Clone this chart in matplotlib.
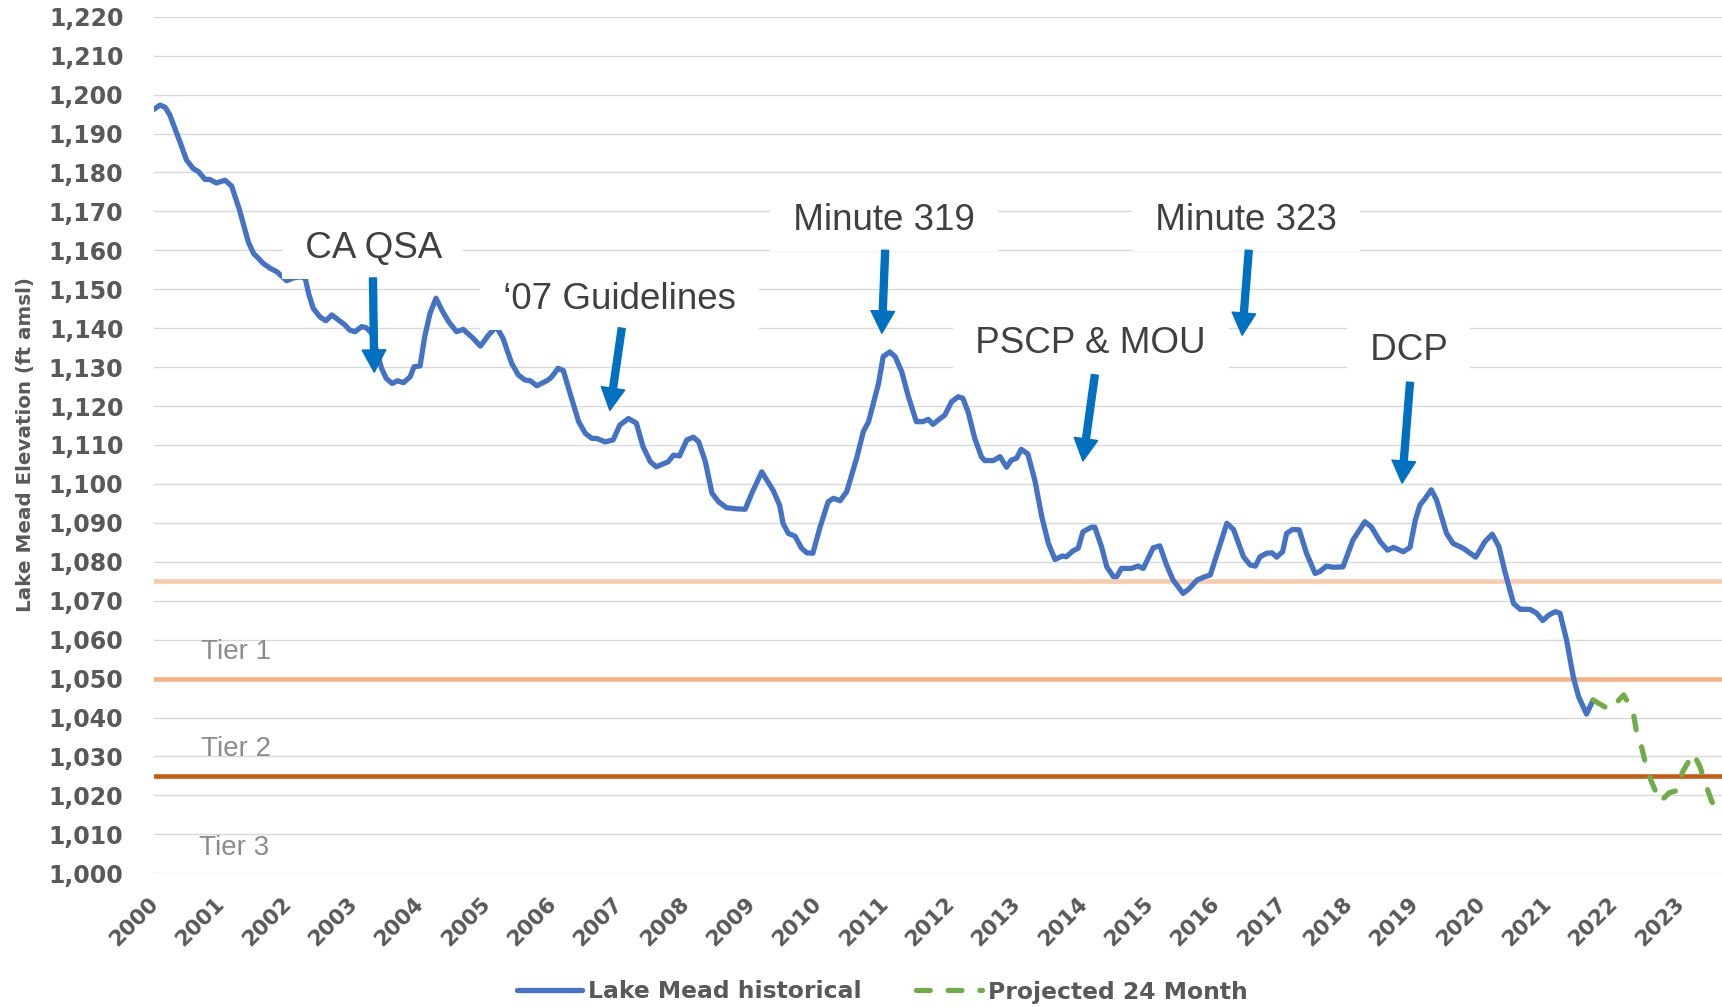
import matplotlib
matplotlib.use("Agg")
import matplotlib.pyplot as plt
from matplotlib.transforms import ScaledTranslation

# ---------------- data ----------------
hist_years = [
    2000.00, 2000.09, 2000.17, 2000.24, 2000.39, 2000.49, 2000.59, 2000.67, 2000.77, 2000.84,
    2000.94, 2001.07, 2001.17, 2001.29, 2001.42, 2001.50, 2001.65, 2001.75, 2001.85, 2002.00,
    2002.10, 2002.20, 2002.28, 2002.33, 2002.40, 2002.50, 2002.59, 2002.68, 2002.78, 2002.88,
    2002.95, 2003.03, 2003.13, 2003.20, 2003.28, 2003.35, 2003.43, 2003.50, 2003.59, 2003.67,
    2003.76, 2003.86, 2003.92, 2004.01, 2004.08, 2004.16, 2004.25, 2004.34, 2004.44, 2004.56,
    2004.66, 2004.81, 2004.92, 2005.04, 2005.16, 2005.26, 2005.39, 2005.49, 2005.59, 2005.67,
    2005.77, 2005.92, 2005.99, 2006.09, 2006.17, 2006.27, 2006.40, 2006.50, 2006.60, 2006.67,
    2006.80, 2006.92, 2007.02, 2007.15, 2007.27, 2007.37, 2007.48, 2007.57, 2007.75, 2007.83,
    2007.92, 2008.03, 2008.13, 2008.21, 2008.31, 2008.41, 2008.51, 2008.63, 2008.78, 2008.91,
    2009.01, 2009.16, 2009.33, 2009.43, 2009.48, 2009.56, 2009.66, 2009.76, 2009.84, 2009.93,
    2010.04, 2010.16, 2010.24, 2010.34, 2010.44, 2010.59, 2010.69, 2010.77, 2010.92, 2010.99,
    2011.09, 2011.17, 2011.27, 2011.37, 2011.49, 2011.59, 2011.67, 2011.74, 2011.82, 2011.92,
    2012.02, 2012.12, 2012.19, 2012.27, 2012.37, 2012.47, 2012.52, 2012.65, 2012.75, 2012.85,
    2012.92, 2013.00, 2013.07, 2013.17, 2013.28, 2013.38, 2013.48, 2013.58, 2013.69, 2013.75,
    2013.85, 2013.93, 2014.00, 2014.13, 2014.18, 2014.28, 2014.36, 2014.46, 2014.51, 2014.58,
    2014.73, 2014.83, 2014.91, 2015.06, 2015.16, 2015.26, 2015.36, 2015.51, 2015.59, 2015.72,
    2015.84, 2015.92, 2016.04, 2016.17, 2016.27, 2016.42, 2016.52, 2016.60, 2016.67, 2016.77,
    2016.85, 2016.92, 2017.01, 2017.07, 2017.16, 2017.26, 2017.37, 2017.50, 2017.57, 2017.67,
    2017.77, 2017.92, 2018.07, 2018.25, 2018.35, 2018.48, 2018.59, 2018.68, 2018.83, 2018.93,
    2019.01, 2019.08, 2019.16, 2019.25, 2019.33, 2019.48, 2019.58, 2019.73, 2019.92, 2020.06,
    2020.17, 2020.27, 2020.36, 2020.49, 2020.59, 2020.74, 2020.84, 2020.93, 2021.02, 2021.12,
    2021.19, 2021.29, 2021.39, 2021.47, 2021.59, 2021.69,
]
hist_elev = [
    1196.2, 1197.3, 1196.7, 1194.7, 1187.9, 1183.2, 1181.0, 1180.2, 1178.2, 1178.2,
    1177.3, 1178.0, 1176.5, 1170.3, 1162.2, 1159.2, 1156.6, 1155.4, 1154.5, 1152.2,
    1152.9, 1153.2, 1152.8, 1148.9, 1145.1, 1142.9, 1141.9, 1143.4, 1142.1, 1140.8,
    1139.5, 1139.1, 1140.4, 1140.1, 1138.7, 1134.4, 1129.7, 1127.1, 1125.8, 1126.5,
    1126.0, 1127.5, 1130.1, 1130.3, 1137.8, 1143.8, 1147.7, 1144.6, 1141.7, 1139.1,
    1139.7, 1137.4, 1135.4, 1138.2, 1140.4, 1137.4, 1131.0, 1128.0, 1126.7, 1126.5,
    1125.2, 1126.5, 1127.4, 1129.7, 1129.1, 1123.3, 1116.0, 1113.0, 1111.7, 1111.7,
    1110.8, 1111.3, 1115.1, 1116.8, 1115.6, 1109.6, 1105.7, 1104.4, 1105.7, 1107.4,
    1107.2, 1111.3, 1112.0, 1110.8, 1105.7, 1097.6, 1095.4, 1093.9, 1093.6, 1093.5,
    1097.6, 1103.1, 1098.4, 1094.5, 1089.9, 1087.3, 1086.6, 1083.5, 1082.3, 1082.2,
    1089.0, 1095.4, 1096.3, 1095.7, 1098.0, 1106.6, 1113.4, 1116.0, 1125.8, 1132.7,
    1133.9, 1132.7, 1128.8, 1122.4, 1116.0, 1116.0, 1116.6, 1115.3, 1116.4, 1117.7,
    1121.1, 1122.4, 1122.0, 1118.5, 1111.7, 1107.0, 1106.0, 1106.0, 1107.0, 1104.3,
    1106.1, 1106.6, 1108.9, 1107.7, 1100.6, 1091.6, 1084.7, 1080.6, 1081.5, 1081.3,
    1082.8, 1083.5, 1087.7, 1088.9, 1088.9, 1083.9, 1078.7, 1076.2, 1076.2, 1078.3,
    1078.3, 1078.9, 1078.3, 1083.6, 1084.1, 1079.2, 1075.3, 1071.9, 1072.9, 1075.3,
    1076.2, 1076.6, 1083.0, 1089.9, 1088.3, 1081.3, 1079.2, 1078.9, 1081.3, 1082.2,
    1082.3, 1081.2, 1082.6, 1087.3, 1088.3, 1088.2, 1082.2, 1077.0, 1077.5, 1078.9,
    1078.6, 1078.7, 1085.6, 1090.3, 1088.9, 1085.2, 1083.0, 1083.7, 1082.6, 1083.7,
    1090.7, 1094.6, 1096.3, 1098.5, 1095.9, 1087.3, 1084.7, 1083.5, 1081.2, 1085.2,
    1087.1, 1083.9, 1077.5, 1069.3, 1067.8, 1067.8, 1066.8, 1064.9, 1066.3, 1067.2,
    1066.8, 1059.9, 1050.5, 1045.4, 1040.9, 1044.5,
]
proj_years = [
    2021.69, 2021.94, 2022.15, 2022.29, 2022.34, 2022.42, 2022.49, 2022.57, 2022.70, 2022.84,
    2022.94, 2023.04, 2023.20, 2023.30, 2023.38, 2023.48, 2023.55, 2023.63, 2023.75,
]
proj_elev = [
    1044.5, 1042.0, 1045.8, 1041.7, 1036.8, 1032.5, 1027.4, 1023.5, 1018.4, 1020.7,
    1021.2, 1026.1, 1030.8, 1027.4, 1023.1, 1018.4, 1016.7, 1016.3, 1016.0,
]

series_labels = ["Lake Mead historical", "Projected 24 Month"]
tier_levels = [1075, 1050, 1025]
tier_colors = ["#F8CBAD", "#F4B183", "#C55A11"]
tier_names = ["Tier 1", "Tier 2", "Tier 3"]
tier_name_pos = [(2001.24, 1056.8), (2001.24, 1031.9), (2001.20, 1006.6)]
year_labels = ["2000", "2001", "2002", "2003", "2004", "2005", "2006", "2007", "2008",
               "2009", "2010", "2011", "2012", "2013", "2014", "2015", "2016", "2017",
               "2018", "2019", "2020", "2021", "2022", "2023"]
y_ticks = [1000, 1010, 1020, 1030, 1040, 1050, 1060, 1070, 1080, 1090, 1100, 1110,
           1120, 1130, 1140, 1150, 1160, 1170, 1180, 1190, 1200, 1210, 1220]

# (text, text position, arrow start, arrow tip)
events = [
    ("CA QSA", (2003.29, 1160.4), (2003.30, 1152.9), (2003.32, 1128.7)),
    ("\u201807 Guidelines", (2007.02, 1147.3), (2007.05, 1140.0), (2006.87, 1118.9)),
    ("Minute 319", (2011.00, 1167.6), (2011.02, 1160.0), (2010.97, 1138.7)),
    ("Minute 323", (2016.46, 1167.6), (2016.50, 1160.0), (2016.40, 1138.2)),
    ("PSCP & MOU", (2014.12, 1136.0), (2014.18, 1128.0), (2014.00, 1105.9)),
    ("DCP", (2018.91, 1134.2), (2018.93, 1126.1), (2018.81, 1100.2)),
]

# ---------------- figure ----------------
W, H, DPI = 1722, 1007, 100
fig = plt.figure(figsize=(W / DPI, H / DPI), dpi=DPI)
ax_l, ax_r, ax_b, ax_t = 154, 1722, 873.3, 16.7
ax = fig.add_axes([ax_l / W, 1 - ax_b / H, (ax_r - ax_l) / W, (ax_b - ax_t) / H])

tick_color = "#595959"
num_font = "DejaVu Sans"
txt_font = ["Liberation Sans", "DejaVu Sans"]

ax.set_xlim(2000, 2000 + (ax_r - ax_l) / 66.35)
ax.set_ylim(1000, 1220)
for s in ax.spines.values():
    s.set_visible(False)

ax.set_yticks(y_ticks)
ax.set_yticklabels([f"{v:,}" for v in y_ticks], fontsize=17, fontweight="bold",
                   color=tick_color, family=num_font)
ax.yaxis.grid(True, color="#D9D9D9", linewidth=1.0, zorder=0)
ax.set_axisbelow(True)
ax.tick_params(axis="y", length=0, pad=22)

ax.set_xticks([int(y) for y in year_labels])
ax.set_xticklabels(year_labels, rotation=45, ha="right", va="top", rotation_mode="anchor",
                   fontsize=15.5, fontweight="bold", color=tick_color, family=num_font)
ax.tick_params(axis="x", length=0, pad=14.5)
off = ScaledTranslation(-6 / DPI, 0, fig.dpi_scale_trans)
for lab in ax.get_xticklabels():
    lab.set_transform(lab.get_transform() + off)

ax.set_ylabel("Lake Mead Elevation (ft amsl)", fontsize=14.3, fontweight="bold",
              color=tick_color, family=num_font)
ax.yaxis.set_label_coords((35 - ax_l) / (ax_r - ax_l), 0.5)

for lvl, col in zip(tier_levels, tier_colors):
    ax.axhline(lvl, color=col, linewidth=3.3, zorder=1.5)
for name, (tx, ty) in zip(tier_names, tier_name_pos):
    ax.text(tx, ty, name, fontsize=20, color="#8C8C8C", family=txt_font,
            ha="center", va="center", zorder=2)

hist_line, = ax.plot(hist_years, hist_elev, color="#4472C4", linewidth=3.8,
                     solid_capstyle="round", solid_joinstyle="round", zorder=3,
                     label=series_labels[0])
proj_line, = ax.plot(proj_years, proj_elev, color="#70AD47", linewidth=3.8,
                     dashes=(2.6, 3.4), dash_capstyle="round", dash_joinstyle="round",
                     zorder=3, label=series_labels[1])

for text, tpos, a0, a1 in events:
    ax.text(tpos[0], tpos[1], " " + text + " ", fontsize=26.5, color="#404040",
            family=txt_font, ha="center", va="center", zorder=5,
            bbox=dict(boxstyle="square,pad=0.35", fc="white", ec="none"))
    ax.annotate("", xy=a1, xytext=a0, zorder=6,
                arrowprops=dict(arrowstyle="simple,head_length=16,head_width=17,tail_width=5",
                                mutation_scale=1, color="#0070C0", shrinkA=0, shrinkB=0))

leg = fig.legend(handles=[hist_line, proj_line], loc="center",
                 bbox_to_anchor=(882 / W, 1 - 992 / H), ncol=2, frameon=False,
                 handlelength=2.8, handletextpad=0.25, columnspacing=2.3,
                 prop={"family": num_font, "weight": "bold", "size": 16.9})
for t in leg.get_texts():
    t.set_color(tick_color)

fig.savefig("out.png", dpi=DPI, facecolor="white")
